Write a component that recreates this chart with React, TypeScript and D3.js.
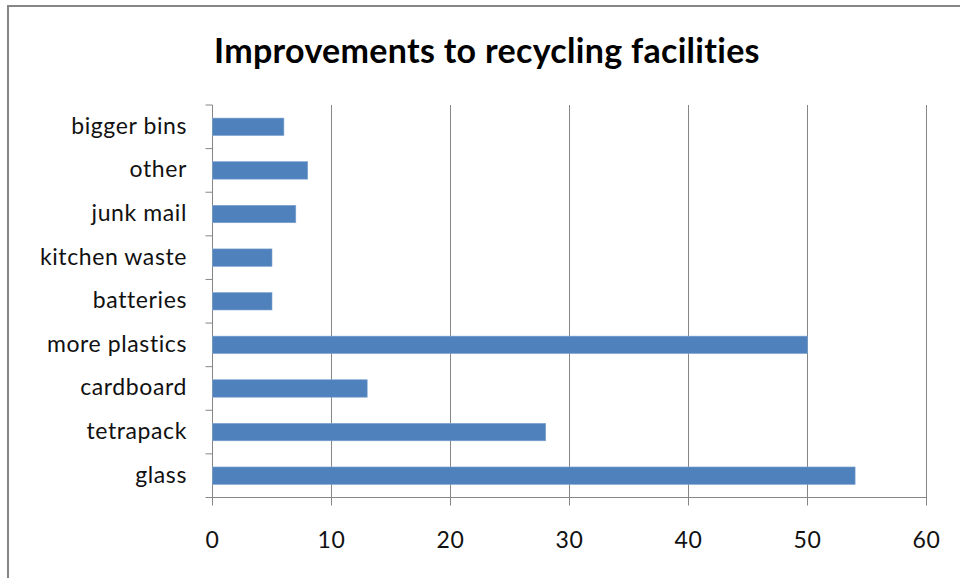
import React from "react";
import * as d3 from "d3";

const categories = ["bigger bins", "other", "junk mail", "kitchen waste", "batteries", "more plastics", "cardboard", "tetrapack", "glass"];
const values = [6, 8, 7, 5, 5, 50, 13, 28, 54];
const xTicks = [0, 10, 20, 30, 40, 50, 60];
const title = "Improvements to recycling facilities";

const W = 960, H = 578;
const left = 212.5, right = 926.5, top = 105, bottom = 497.5;
const FONT = "Lato, 'Open Sans', sans-serif";

export default function App() {
  const x = d3.scaleLinear().domain([0, 60]).range([left, right]);
  const y = d3.scaleBand<string>().domain(categories).range([top, bottom]).paddingInner(0.6).paddingOuter(0.3);
  const band = d3.scaleBand<string>().domain(categories).range([top, bottom]);
  const grid = "#868686";
  return (
    <svg width={W} height={H} style={{ position: "absolute", left: 0, top: 0, background: "#fff" }}>
      <rect x={8} y={6} width={W + 20} height={H + 20} fill="#fff" stroke={grid} strokeWidth={2} />
      <text x={487} y={63} textAnchor="middle" fontFamily={FONT} fontWeight="bold" fontSize={34} letterSpacing={0.3} fill="#000">{title}</text>
      {xTicks.filter(t => t > 0).map(t => (
        <line key={"g" + t} x1={x(t)} x2={x(t)} y1={top} y2={bottom + 8} stroke={grid} strokeWidth={1} />
      ))}
      <line x1={left} x2={left} y1={top} y2={bottom + 8} stroke={grid} strokeWidth={1} />
      <line x1={left} x2={right} y1={bottom} y2={bottom} stroke={grid} strokeWidth={1} />
      {categories.map(c => (
        <line key={"t" + c} x1={left - 7} x2={left} y1={band(c)!} y2={band(c)!} stroke={grid} strokeWidth={1} />
      ))}
      <line x1={left - 7} x2={left} y1={bottom} y2={bottom} stroke={grid} strokeWidth={1} />
      {categories.map((c, i) => (
        <rect key={"b" + c} x={x(0)} y={y(c)!} width={x(values[i]) - x(0)} height={y.bandwidth()} fill="#4F81BD" stroke="#7FA3D0" strokeWidth={0.6} />
      ))}
      {categories.map(c => (
        <text key={"l" + c} x={187} y={band(c)! + band.bandwidth() / 2 + 7} textAnchor="end" fontFamily={FONT} fontSize={23} letterSpacing={0.6} fill="#111">{c}</text>
      ))}
      {xTicks.map(t => (
        <text key={"x" + t} x={x(t)} y={548} textAnchor="middle" fontFamily={FONT} fontSize={23} letterSpacing={0.6} fill="#111">{t}</text>
      ))}
    </svg>
  );
}
